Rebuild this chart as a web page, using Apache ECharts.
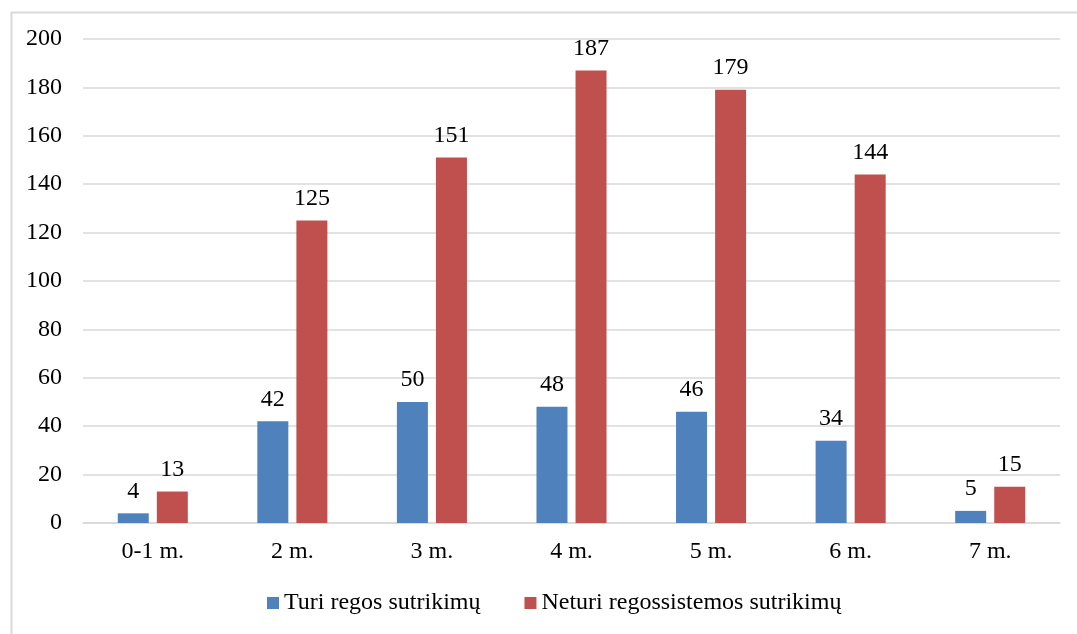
<!DOCTYPE html>
<html>
<head>
<meta charset="utf-8">
<script src="https://cdn.jsdelivr.net/npm/echarts@6/dist/echarts.min.js"></script>
<style>
html,body{margin:0;padding:0;background:#fff;}
#chart{width:1077px;height:634px;}
</style>
</head>
<body>
<div id="chart"></div>
<script>
const categories = ['0-1 m.', '2 m.', '3 m.', '4 m.', '5 m.', '6 m.', '7 m.'];
const seriesNames = ['Turi regos sutrikimų', 'Neturi regossistemos sutrikimų'];
const turi = [4, 42, 50, 48, 46, 34, 5];
const neturi = [13, 125, 151, 187, 179, 144, 15];
const yTicks = [0, 20, 40, 60, 80, 100, 120, 140, 160, 180, 200];

const font = 'Liberation Serif, Times New Roman, serif';
const fs = 24;
const chart = echarts.init(document.getElementById('chart'));
const labelOpt = {
  show: true, position: 'top', distance: 10,
  color: '#000', fontSize: fs, fontFamily: font
};
chart.setOption({
  animation: false,
  graphic: [{
    type: 'rect', left: 9, top: 10,
    shape: {width: 1200, height: 800},
    style: {fill: 'none', stroke: '#d9d9d9', lineWidth: 2},
    silent: true
  }],
  grid: {left: 83, right: 17, top: 39, bottom: 111},
  legend: {
    left: 262, top: 586,
    itemWidth: 12, itemHeight: 12, itemGap: 44,
    icon: 'rect',
    textStyle: {color: '#000', fontSize: fs, fontFamily: font},
    data: seriesNames
  },
  xAxis: {
    type: 'category', data: categories,
    axisLine: {lineStyle: {color: '#d9d9d9', width: 1.5}},
    axisTick: {show: false},
    axisLabel: {color: '#000', fontSize: fs, fontFamily: font, margin: 17}
  },
  yAxis: {
    type: 'value', min: yTicks[0], max: yTicks[yTicks.length - 1], interval: 20,
    axisLine: {show: false}, axisTick: {show: false},
    axisLabel: {color: '#000', fontSize: fs, fontFamily: font, margin: 21},
    splitLine: {lineStyle: {color: '#d9d9d9', width: 1.5}}
  },
  series: [
    {name: seriesNames[0], type: 'bar', data: turi, barWidth: 31, barGap: '26%',
     itemStyle: {color: '#4f81bd'}, label: labelOpt},
    {name: seriesNames[1], type: 'bar', data: neturi, barWidth: 31, barGap: '26%',
     itemStyle: {color: '#c0504d'}, label: labelOpt}
  ]
});
</script>
</body>
</html>
